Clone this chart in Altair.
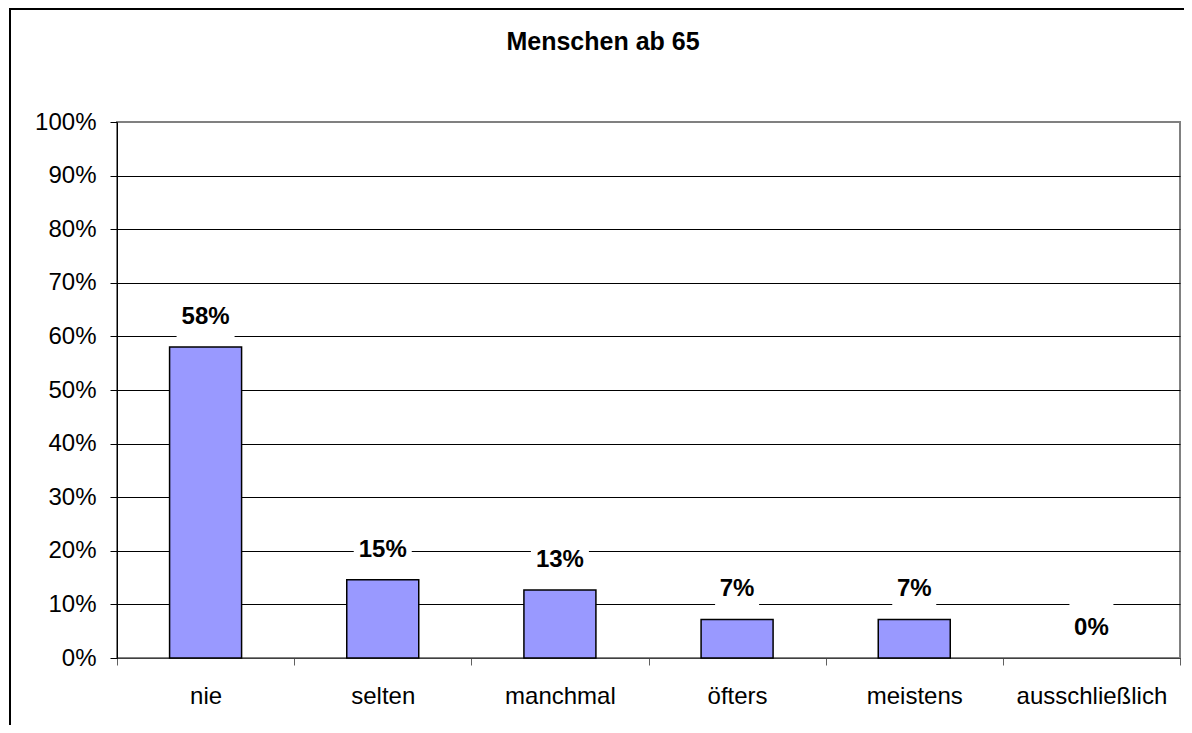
import altair as alt
import pandas as pd

# ---- data ----
title_text = ["Menschen ab 65"]
categories = ["nie", "selten", "manchmal", "öfters", "meistens", "ausschließlich"]
shares = [0.580, 0.146, 0.127, 0.072, 0.072, 0.0]
y_ticks = [0.0, 0.1, 0.2, 0.3, 0.4, 0.5, 0.6, 0.7, 0.8, 0.9, 1.0]

df = pd.DataFrame({"cat": categories, "share": shares})

FONT = "Liberation Sans"
W, H = 1063, 536

x_enc = alt.X(
    "cat:N",
    sort=categories,
    scale=alt.Scale(paddingInner=0, paddingOuter=0),
    axis=alt.Axis(
        title=None,
        labelAngle=0,
        tickBand="extent",
        tickSize=7,
        labelPadding=19,
        labelFont=FONT,
        labelFontSize=24,
        labelColor="black",
        domainColor="#404040",
        tickColor="#606060",
        grid=False,
    ),
)

y_scale = alt.Scale(domain=[0, 1], nice=False)

base = alt.Chart(df).encode(x=x_enc)

boxes = base.transform_calculate(
    lab="format(datum.share, '.0%')",
    boxw="14*length(datum.lab)+16",
    boxtop="datum.share + 57/536",
    boxbot="datum.share + 10/536",
).mark_bar(fill="white", strokeWidth=0).encode(
    y=alt.Y("boxtop:Q", scale=y_scale),
    y2="boxbot:Q",
    size=alt.Size("boxw:Q", scale=None, legend=None),
)

bars = base.mark_bar(width=72, fill="#9999FF", stroke="black", strokeWidth=1.5).encode(
    y=alt.Y(
        "share:Q",
        scale=y_scale,
        axis=alt.Axis(
            title=None,
            format=".0%",
            values=y_ticks,
            tickSize=7,
            labelPadding=14,
            labelFont=FONT,
            labelFontSize=24,
            labelColor="black",
            domainColor="black",
            tickColor="black",
            gridColor={"condition": {"test": "datum.value >= 1", "value": "#808080"}, "value": "#000000"},
            gridWidth=1,
        ),
    ),
    strokeOpacity=alt.condition("datum.share > 0", alt.value(1), alt.value(0)),
)

labels = base.mark_text(
    font=FONT, fontSize=24, fontWeight="bold", dy=-30, baseline="middle", color="black"
).encode(
    y=alt.Y("share:Q", scale=y_scale),
    text=alt.Text("share:Q", format=".0%"),
)

frame = alt.Chart(alt.Data(values=[{"f": 1}])).mark_rect(
    fillOpacity=0, stroke="black", strokeWidth=2
).encode(
    x=alt.value(-107), x2=alt.value(1300), y=alt.value(-113), y2=alt.value(900)
)

title = alt.Chart(pd.DataFrame({"t": title_text})).mark_text(
    font=FONT, fontSize=25, fontWeight="bold", baseline="middle", align="center", color="black"
).encode(x=alt.value(486), y=alt.value(-80), text="t:N")

chart = alt.layer(boxes, bars, labels, frame, title).properties(
    width=W,
    height=H,
    autosize=alt.AutoSizeParams(type="none"),
    padding={"left": 109, "top": 114, "right": 4, "bottom": 67},
    background="white",
).configure_view(stroke="#808080", strokeWidth=2)

chart.save("out.html", embed_options={"renderer": "svg", "actions": False})
